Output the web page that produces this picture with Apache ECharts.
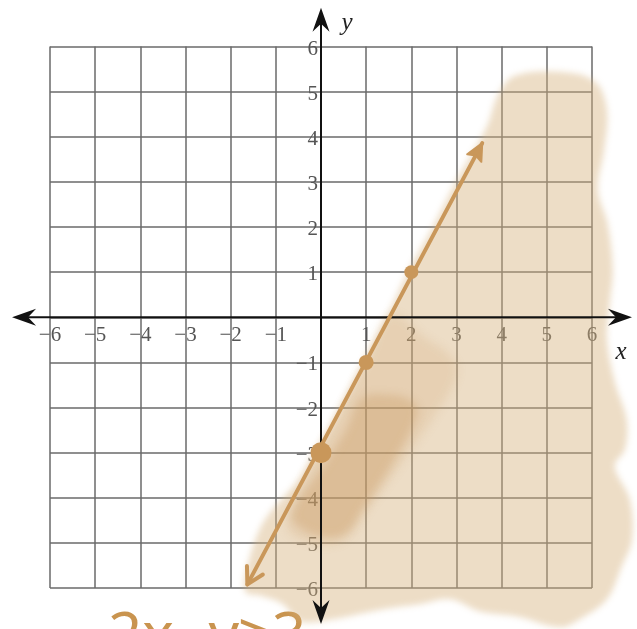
<!DOCTYPE html>
<html><head><meta charset="utf-8">
<script src="https://cdn.jsdelivr.net/npm/echarts@6/dist/echarts.min.js"></script>
<style>html,body{margin:0;padding:0;background:#fff;overflow:hidden}#c{width:637px;height:629px}</style>
</head><body><div id="c"></div>
<script>
// ---- data ----
const axisMin = -6, axisMax = 6, tickStep = 1;
const tickValues = [-6, -5, -4, -3, -2, -1, 1, 2, 3, 4, 5, 6];
const tickLabels = ['\u22126', '\u22125', '\u22124', '\u22123', '\u22122', '\u22121', '1', '2', '3', '4', '5', '6'];
const axisXEnds = [[-6.84, 0], [6.885, 0]];
const axisYEnds = [[0, -6.8], [0, 6.86]];
const boundaryLine = [[-1.63, -5.92], [3.57, 3.86]];
const plottedPoints = [[0, -3], [1, -1], [2, 1]];
const pointSizes = [21, 15, 14];
const shadeOuter = [
  [-1.68,-6.08],[-1.6,-5.4],[-1.25,-4.5],[-0.5,-3.6],[-0.1,-2.9],[0.2,-2.4],[0.91,-1.02],[1.42,-0.05],
  [1.93,1.01],[2.48,2.01],[3.01,3.05],[3.67,4.22],[3.92,4.93],[4.29,5.35],[5.29,5.44],[6.07,5.22],
  [6.33,4.60],[6.27,3.71],[6.13,2.83],[6.35,2.05],[6.46,1.05],[6.40,0.39],[6.33,-0.49],[6.51,-1.45],
  [6.77,-2.27],[6.73,-2.93],[6.50,-3.30],[6.84,-4.04],[6.89,-4.92],[6.66,-5.52],[6.33,-6.25],
  [5.73,-6.69],[5.29,-6.87],[4.34,-6.63],[3.52,-6.52],[2.86,-6.25],[2.19,-6.36],[1.37,-6.47],
  [0.27,-6.69],[-0.46,-6.74],[-0.84,-6.36],[-1.31,-6.18]
];
const shadeMid = [
  [1.55,0.05],[2.3,-0.45],[2.9,-0.9],[3.0,-1.3],[2.5,-2.2],[1.9,-3.06],[1.0,-4.3],[0.5,-4.95],
  [-0.2,-5.0],[-0.75,-4.7],[-0.6,-4.1],[0.2,-2.5],[1.0,-1.0]
];
const shadeDark = [
  [0.9,-1.8],[1.5,-1.72],[2.0,-1.85],[2.15,-2.1],[1.6,-3.2],[0.9,-4.3],[0.6,-4.75],[0.2,-4.88],
  [-0.4,-4.7],[-0.65,-4.35],[0.05,-3.3],[0.55,-2.5]
];
const xAxisName = 'x', yAxisName = 'y';
const inequalityText = '2x−y≥3';

// ---- chart ----
const tan = '#c9975a';
const chart = echarts.init(document.getElementById('c'), null, {renderer: 'canvas'});
const OFF = 3000;

function arrowPts(tip, from, len, half, notch) {
  const dx = tip[0] - from[0], dy = tip[1] - from[1];
  const L = Math.hypot(dx, dy), ux = dx / L, uy = dy / L, nx = -uy, ny = ux;
  return [
    tip,
    [tip[0] - ux * len + nx * half, tip[1] - uy * len + ny * half],
    [tip[0] - ux * (len - notch), tip[1] - uy * (len - notch)],
    [tip[0] - ux * len - nx * half, tip[1] - uy * len - ny * half]
  ];
}

function labelsRender(params, api) {
  const o = api.coord([0, 0]);
  const font = '21px "Liberation Serif", serif';
  const kids = [];
  tickValues.forEach((v, i) => {
    const px = api.coord([v, 0]);
    kids.push({type: 'text', style: {text: tickLabels[i], x: px[0], y: o[1] + 18, font: font, fill: '#555', align: 'center', verticalAlign: 'middle'}});
    const py = api.coord([0, v]);
    kids.push({type: 'text', style: {text: tickLabels[i], x: o[0] - 3, y: py[1] + 2.5, font: font, fill: '#555', align: 'right', verticalAlign: 'middle'}});
  });
  return {type: 'group', children: kids};
}

function shadeRender(params, api) {
  // soft shapes: draw off-canvas and keep only the blurred shadow
  const soft = (pts, color, blur, smooth) => ({
    type: 'polygon',
    shape: {points: pts.map(p => { const c = api.coord(p); return [c[0] - OFF, c[1]]; }), smooth: smooth},
    style: {fill: '#000', shadowBlur: blur, shadowColor: color, shadowOffsetX: OFF, shadowOffsetY: 0}
  });
  return {type: 'group', children: [
    soft(shadeOuter, 'rgba(214,176,124,0.43)', 6, 0.35),
    soft(shadeMid, 'rgba(200,150,90,0.17)', 10, 0.4),
    soft(shadeDark, 'rgba(195,145,85,0.30)', 9, 0.4)
  ]};
}

function axesRender(params, api) {
  const xa = api.coord(axisXEnds[0]), xb = api.coord(axisXEnds[1]);
  const ya = api.coord(axisYEnds[0]), yb = api.coord(axisYEnds[1]);
  const ls = {stroke: '#111', lineWidth: 2};
  const head = (tip, from) => ({type: 'polygon', shape: {points: arrowPts(tip, from, 24, 8.5, 8)}, style: {fill: '#111'}});
  return {type: 'group', children: [
    {type: 'line', shape: {x1: xa[0] + 6, y1: xa[1], x2: xb[0] - 6, y2: xb[1]}, style: ls},
    {type: 'line', shape: {x1: ya[0], y1: ya[1] - 6, x2: yb[0], y2: yb[1] + 6}, style: ls},
    head(xa, xb), head(xb, xa), head(ya, yb), head(yb, ya),
    {type: 'text', style: {text: xAxisName, x: xb[0] - 11, y: xb[1] + 35, font: 'italic 25px "Liberation Serif", serif', fill: '#222', align: 'center', verticalAlign: 'middle'}},
    {type: 'text', style: {text: yAxisName, x: yb[0] + 26, y: yb[1] + 16, font: 'italic 25px "Liberation Serif", serif', fill: '#222', align: 'center', verticalAlign: 'middle'}}
  ]};
}

function lineRender(params, api) {
  const a = api.coord(boundaryLine[0]), b = api.coord(boundaryLine[1]);
  const bot = arrowPts(a, b, 16, 9, 16);
  return {type: 'group', children: [
    {type: 'line', shape: {x1: a[0], y1: a[1], x2: b[0], y2: b[1]}, style: {stroke: tan, lineWidth: 4, lineCap: 'round'}},
    {type: 'polygon', shape: {points: arrowPts(b, a, 17, 8, 3)}, style: {fill: tan, stroke: tan, lineWidth: 2, lineJoin: 'round'}},
    {type: 'polyline', shape: {points: [bot[1], bot[0], bot[3]]}, style: {stroke: tan, lineWidth: 4, lineCap: 'round', lineJoin: 'round', fill: null}}
  ]};
}

chart.setOption({
  animation: false,
  backgroundColor: '#fff',
  grid: {left: 50, right: 45, top: 46.5, bottom: 41},
  xAxis: {
    type: 'value', min: axisMin, max: axisMax, interval: tickStep,
    axisLine: {show: false}, axisTick: {show: false}, axisLabel: {show: false},
    splitLine: {show: true, lineStyle: {color: '#6a6a6a', width: 1.5}}
  },
  yAxis: {
    type: 'value', min: axisMin, max: axisMax, interval: tickStep,
    axisLine: {show: false}, axisTick: {show: false}, axisLabel: {show: false},
    splitLine: {show: true, lineStyle: {color: '#6a6a6a', width: 1.5}}
  },
  graphic: [{
    type: 'text', left: 108, top: 608, silent: true,
    style: {text: inequalityText, font: '60px "Noto Sans", sans-serif', fill: '#c9944f'}
  }],
  series: [
    {type: 'custom', silent: true, z: 1, clip: false, data: [0], renderItem: labelsRender},
    {type: 'custom', silent: true, z: 2, clip: false, data: [0], renderItem: shadeRender},
    {type: 'custom', silent: true, z: 3, clip: false, data: [0], renderItem: axesRender},
    {type: 'custom', silent: true, z: 4, clip: false, data: [0], renderItem: lineRender},
    {type: 'scatter', silent: true, z: 5, data: plottedPoints,
     symbolSize: (v, p) => pointSizes[p.dataIndex], itemStyle: {color: tan, opacity: 1}}
  ]
});
</script>
</body></html>
